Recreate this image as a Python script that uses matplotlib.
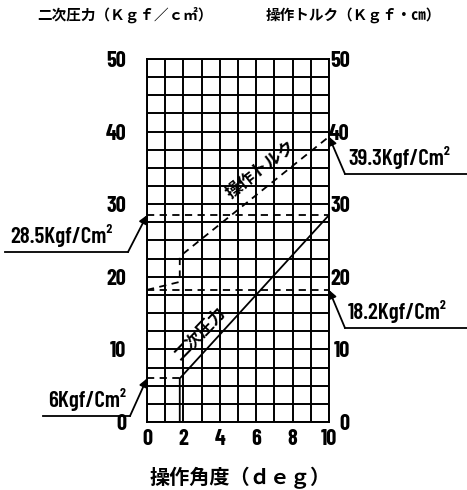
import numpy as np
import matplotlib
matplotlib.use('Agg')
import matplotlib.pyplot as plt
from matplotlib.lines import Line2D

# data
angle_p = [1.8, 1.8, 10]          # 二次圧力 (solid)
press_p = [0, 6, 28.5]
angle_q = [0, 1.8]                # 二次圧力 start level (dashed)
press_q = [6, 6]
angle_t = [0, 1.8, 1.8, 10]       # 操作トルク (dashed)
torque_t = [18.2, 19.3, 22.8, 39.3]
levels = [28.5, 18.2]             # dashed reference levels
y_ticks = [0, 10, 20, 30, 40, 50]
x_ticks = [0, 2, 4, 6, 8, 10]

num_font = ['Barlow Condensed', 'DejaVu Sans']
jp_font = ['Noto Sans CJK JP', 'DejaVu Sans']

W, H = 467, 490
fig = plt.figure(figsize=(W / 100, H / 100), dpi=100)
ax = fig.add_axes([147 / W, 1 - 422 / H, 182 / W, 363 / H])

def fp(x, y):
    return (x / W, 1 - y / H)

ax.set_xlim(0, 10)
ax.set_ylim(0, 50)
ax.set_xticks(x_ticks)
ax.set_xticks(np.arange(0, 11, 1), minor=True)
ax.set_yticks(y_ticks)
ax.set_yticks(np.arange(0, 51, 2.5), minor=True)
ax.grid(which='both', color='k', lw=1.4)
ax.set_axisbelow(True)
for s in ax.spines.values():
    s.set_linewidth(1.4)
ax.tick_params(which='both', length=0)
ax.tick_params(axis='y', labelright=True, pad=5)
ax.tick_params(axis='x', pad=5)
for lab in ax.get_xticklabels() + ax.get_yticklabels():
    lab.set_fontfamily(num_font)
    lab.set_fontweight('bold')
    lab.set_fontsize(16)
for t in ax.yaxis.get_major_ticks():
    t.label2.set_horizontalalignment('right')
    t.label2.set_fontfamily(num_font)
    t.label2.set_fontweight('bold')
    t.label2.set_fontsize(16)
    t.set_pad(15)

# lines
ax.plot(angle_p, press_p, color='k', lw=1.3)
ax.plot(angle_q, press_q, color='k', lw=1.3, ls=(0, (4, 3)))
ax.plot(angle_t, torque_t, color='k', lw=1.3, ls=(0, (4, 3)))
for lv in levels:
    ax.plot([0, 10], [lv, lv], color='k', lw=1.3, ls=(0, (4, 3)))

# rotated curve labels
ax.text(2.85, 12.2, '二次圧力', rotation=46, ha='center', va='center',
        fontsize=12, fontweight='bold', family=jp_font)
ax.text(6.25, 34.8, '操作トルク', rotation=38, ha='center', va='center',
        fontsize=12, fontweight='bold', family=jp_font)

# annotations: (value, x on axis, tail px, underline px range, text x)
notes = [
    (28.5, 0, (128, 252), (5, 128), 10),
    (6, 0, (130, 416), (43, 130), 48),
    (39.3, 10, (345, 174), (345, 467), 348),
    (18.2, 10, (345, 328), (345, 467), 348),
]
for val, xa, tail, uline, tx in notes:
    ax.annotate('', xy=(xa, val), xycoords='data', xytext=fp(*tail),
                textcoords='figure fraction', annotation_clip=False,
                arrowprops=dict(arrowstyle='-|>', color='k', lw=1.3,
                                mutation_scale=12, shrinkA=0, shrinkB=0))
    fig.add_artist(Line2D([uline[0] / W, uline[1] / W], [1 - tail[1] / H] * 2,
                          color='k', lw=1.3))
    lbl = '%gKgf/Cm²' % val
    fig.text(tx / W, 1 - (tail[1] - 5) / H, lbl, ha='left', va='bottom',
             fontsize=16.5, fontweight='semibold', family=num_font)

# axis titles
fig.text(*fp(125, 15), '二次圧力（Ｋｇｆ／ｃ㎡）', ha='center', va='center',
         fontsize=10.5, fontweight='bold', family=jp_font)
fig.text(*fp(353, 15), '操作トルク（Ｋｇｆ・㎝）', ha='center', va='center',
         fontsize=10.5, fontweight='bold', family=jp_font)
fig.text(*fp(240, 478), '操作角度（ｄｅｇ）', ha='center', va='center',
         fontsize=14.5, fontweight='bold', family=jp_font)

fig.savefig('out.png', dpi=100)
